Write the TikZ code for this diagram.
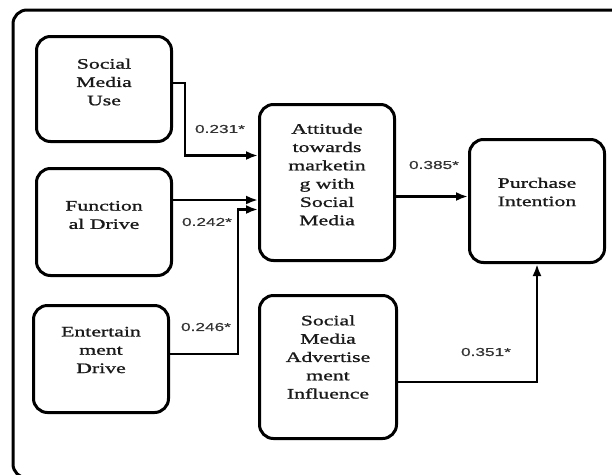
\documentclass[tikz,border=0pt]{standalone}
\usepackage{fontspec}
\setmainfont{Liberation Serif}[FakeStretch=1.5,FakeBold=1.2]
\newfontfamily\coeffont{Liberation Sans}[FakeStretch=1.5,FakeBold=0.6]
\usetikzlibrary{arrows.meta}

\begin{document}
\begin{tikzpicture}[x=1pt,y=-1pt,
		construct/.style={draw,line width=3pt,rounded corners=14pt,inner sep=0pt},
		constext/.style={align=center,font=\fontsize{14.5}{18.3}\selectfont,text=black!90},
		coef/.style={font=\coeffont\fontsize{11.5}{13}\selectfont,text=black!80},
		path/.style={line width=2.8pt,-{Latex[length=12pt,width=9pt]}}]
		\useasboundingbox (0,0) rectangle (612,474);
		\clip (0,0) rectangle (612,474);
		\draw[line width=3pt,rounded corners=14pt] (13,10) rectangle (640,478);
		% constructs
		\node[construct,minimum width=135,minimum height=105](smu) at (104,89){};
		\node[construct,minimum width=135,minimum height=107](fd) at (104,222){};
		\node[construct,minimum width=135,minimum height=107](ed) at (101,359){};
		\node[construct,minimum width=135,minimum height=156](att) at (327,182.5){};
		\node[construct,minimum width=137,minimum height=143](smai) at (328,367){};
		\node[construct,minimum width=135,minimum height=123](pi) at (537,201){};
		\node[constext](smutext) at ([yshift=7pt]smu.center){Social\\Media\\Use};
		\node[constext](fdtext) at ([yshift=7pt]fd.center){Function\\al Drive};
		\node[constext](edtext) at ([yshift=9pt]ed.center){Entertain\\ment\\Drive};
		\node[constext](atttext) at ([yshift=8pt]att.center){Attitude\\towards\\marketin\\g with\\Social\\Media};
		\node[constext](smaitext) at ([yshift=10pt]smai.center){Social\\Media\\Advertise\\ment\\Influence};
		\node[constext](pitext) at ([yshift=9pt]pi.center){Purchase\\Intention};
		% paths
		\draw[path] ([yshift=6pt]smu.east) -- ++(12,0) |- ([yshift=27pt]att.west);
		\draw[path] ([yshift=22pt]fd.east) -- ([yshift=22pt]fd.east -| att.west);
		\draw[path] ([yshift=5pt]ed.east) -- ++(68,0) |- ([yshift=-27pt]att.west);
		\draw[path] ([yshift=-14pt]att.east) -- ([yshift=-14pt]att.east -| pi.west);
		\draw[path] ([yshift=-15pt]smai.east) -| (pi.south);
		\node[coef](c1) at (220,129){0.231*};
		\node[coef](c2) at (207,222){0.242*};
		\node[coef](c3) at (206,327){0.246*};
		\node[coef](c4) at (434,165){0.385*};
		\node[coef](c5) at (486,352){0.351*};
	\end{tikzpicture}
\end{document}
